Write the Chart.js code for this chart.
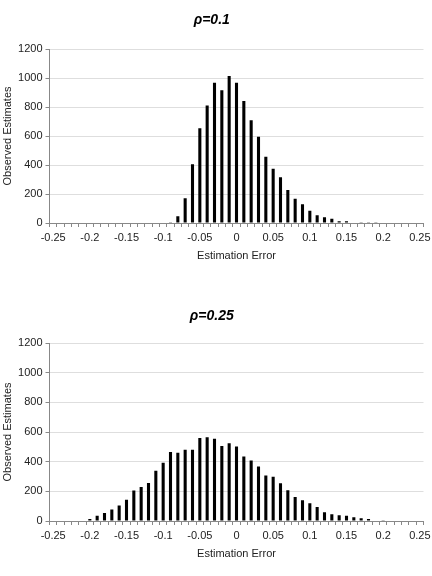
<!DOCTYPE html>
<html><head><meta charset="utf-8">
<script src="https://cdn.jsdelivr.net/npm/chart.js@4/dist/chart.umd.min.js"></script>
<style>
html,body{margin:0;padding:0;background:#fff;width:432px;height:576px;overflow:hidden}
.box{position:absolute;left:0;width:432px;height:288px}
canvas{display:block}
</style></head><body>
<div class="box" style="top:0"><canvas id="c1" width="432" height="288"></canvas></div>
<div class="box" style="top:288px"><canvas id="c2" width="432" height="288"></canvas></div>
<script>
const categories = ['-0.25','-0.24','-0.23','-0.22','-0.21','-0.2','-0.19','-0.18','-0.17','-0.16',
  '-0.15','-0.14','-0.13','-0.12','-0.11','-0.1','-0.09','-0.08','-0.07','-0.06',
  '-0.05','-0.04','-0.03','-0.02','-0.01','0','0.01','0.02','0.03','0.04',
  '0.05','0.06','0.07','0.08','0.09','0.1','0.11','0.12','0.13','0.14',
  '0.15','0.16','0.17','0.18','0.19','0.2','0.21','0.22','0.23','0.24','0.25'];
const tickLabels = ['-0.25','-0.2','-0.15','-0.1','-0.05','0','0.05','0.1','0.15','0.2','0.25'];
const yTicks = [0,200,400,600,800,1000,1200];
const titles = ['ρ=0.1','ρ=0.25'];
const xTitle = 'Estimation Error';
const yTitle = 'Observed Estimates';
const rho010 = [0,0,0,0,0,0,0,0,0,0,
  0,0,0,0,0,0,5,46,171,406,
  653,810,967,916,1013,967,842,708,595,457,
  374,316,228,168,129,85,53,39,30,12,
  12,3,2,1,2,0,0,0,0,0,0];
const rho025 = [0,0,0,0,0,14,36,54,77,104,
  144,205,230,257,338,392,465,460,480,480,
  559,564,555,505,525,503,435,408,368,307,
  298,255,207,162,140,120,95,59,45,38,
  36,25,18,14,4,2,0,0,0,0,0];

Chart.defaults.font.family = '"Liberation Sans", Arial, sans-serif';
Chart.defaults.color = '#222';

function makeChart(id, title, values, L) {
  return new Chart(document.getElementById(id), {
    type: 'bar',
    data: { labels: categories, datasets: [{ data: values, backgroundColor: '#000', borderWidth: 0,
      barPercentage: 0.42, categoryPercentage: 1 }] },
    options: {
      responsive: false, animation: false, devicePixelRatio: 1,
      layout: { padding: { left: 0, right: 8.5, top: 0, bottom: 0 } },
      plugins: {
        legend: { display: false }, tooltip: { enabled: false },
        title: { display: true, text: title, color: '#000',
          font: { size: 14, weight: 'bold', style: 'italic', lineHeight: 1.2 },
          padding: { top: L.tTop, bottom: L.tBottom } }
      },
      scales: {
        x: {
          offset: true,
          grid: { offset: true, drawOnChartArea: false, drawTicks: true, tickLength: 4, tickColor: '#888' },
          border: { color: '#888', width: 1 },
          ticks: { autoSkip: false, maxRotation: 0, minRotation: 0, padding: 4, font: { size: 11 },
            callback: (v, i) => (i % 5 === 0 ? tickLabels[i / 5] : '') },
          title: { display: true, text: xTitle, font: { size: 11, lineHeight: 1.2 }, padding: { top: 2, bottom: L.xtBottom } },
          afterFit: s => { s.height = L.xH; s.paddingLeft = 0; s.paddingRight = 0; }
        },
        y: {
          min: 0, max: 1200,
          afterBuildTicks: s => { s.ticks = yTicks.map(v => ({ value: v })); },
          grid: { color: '#dedede', tickLength: 4, tickColor: '#888', drawTicks: true },
          border: { color: '#888', width: 1 },
          ticks: { padding: 3, font: { size: 11 }, callback: v => String(v) },
          title: { display: true, text: yTitle, font: { size: 11, lineHeight: 1.2 }, padding: { top: 1.4, bottom: 2 } },
          afterFit: s => { s.width = 49.5; s.paddingTop = 0; s.paddingBottom = 0; }
        }
      }
    }
  });
}

makeChart('c1', titles[0], rho010, { tTop: 11.6, tBottom: 20.6, xH: 65, xtBottom: 25.4 });
makeChart('c2', titles[1], rho025, { tTop: 19.6, tBottom: 18.6, xH: 55, xtBottom: 15.4 });
</script>
</body></html>
